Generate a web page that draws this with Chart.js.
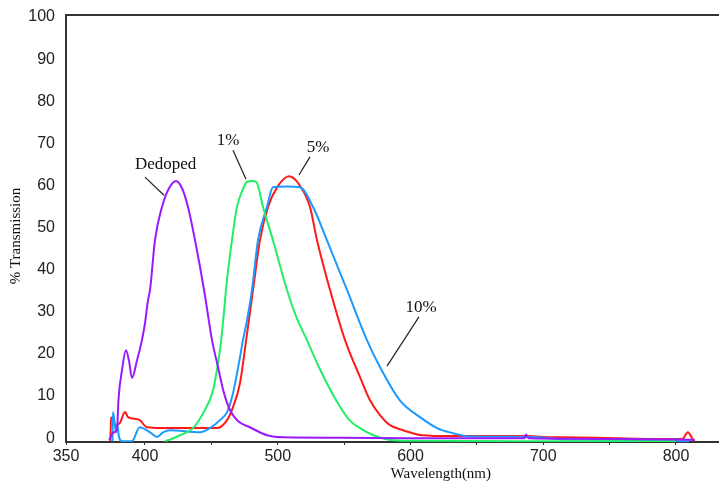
<!DOCTYPE html>
<html>
<head>
<meta charset="utf-8">
<script src="https://cdn.jsdelivr.net/npm/chart.js@4"></script>
<style>
  body { margin: 0; background: #fff; }
  #wrap { width: 719px; height: 486px; }
</style>
</head>
<body>
<div id="wrap"><canvas id="chart"></canvas></div>
<script>
// wavelength (nm) / % transmission
const dedopedNm = [373, 376, 379, 380, 382.7, 385.7, 388, 390.2, 394, 397.7, 400, 402.3, 403.8, 407.5, 412.8, 418, 423.4, 428, 432.4, 437.7, 444.5, 450.5, 455, 459, 464, 470, 479, 492, 504, 550, 600, 686, 687, 689, 720, 760, 800, 814]
const dedopedVal = [0.3, 2, 3, 9.7, 16.9, 21.6, 19, 15, 19.2, 24, 28, 33.5, 35.9, 47.7, 55.6, 60, 61.8, 60, 55.6, 47.7, 35.9, 24, 17.6, 12, 7.4, 4.8, 3.3, 1.4, 0.9, 0.8, 0.7, 0.7, 1.6, 0.7, 0.6, 0.5, 0.4, 0.3]

const onePctNm = [415, 420, 426.4, 436.2, 443.7, 451.2, 455, 457, 459, 461.5, 465.5, 469.3, 474, 477, 480.6, 484, 488.9, 496.4, 507, 514, 522, 531, 544, 554, 562, 572, 584.6, 600, 700, 800]
const onePctVal = [0, 0.5, 1.4, 3.1, 6.6, 12, 18.5, 23, 29, 37.5, 47.7, 55.6, 60, 61.6, 61.8, 61.5, 55.6, 47.7, 35.9, 29.5, 24, 17.6, 9.7, 5, 3.1, 1.4, 0.3, 0.1, 0, 0]

const fivePctNm = [373.9, 374.5, 375.8, 377.4, 381, 385, 387.2, 392, 396, 401.5, 416.6, 440, 454.2, 461.8, 466.3, 471.6, 476, 481.4, 486.6, 492.7, 500, 508.5, 516, 524.3, 529.6, 539.4, 550.7, 562, 569.5, 577, 584.6, 594.4, 608.7, 630, 660, 687.8, 700, 712, 740, 770, 800, 805, 809, 812, 814]
const fivePctVal = [0, 5.5, 5.7, 3.8, 4.3, 6.9, 5.7, 5.3, 5, 3.3, 3.1, 3.1, 3.1, 5, 8.1, 13.8, 23.5, 35.9, 47.7, 55.6, 60.5, 62.9, 61, 55.6, 47.7, 35.9, 24, 15.2, 9.7, 6.2, 3.8, 2.6, 1.4, 1.2, 1.2, 1.2, 1.0, 0.9, 0.8, 0.6, 0.5, 0.6, 2.1, 0.8, 0]

const tenPctNm = [375.5, 375.9, 378.2, 379, 380.4, 382.7, 390.2, 396, 403.8, 409, 413.6, 418.8, 441.4, 449, 456.5, 461.8, 466.3, 471.6, 473.8, 476.9, 480.6, 485.1, 491.9, 496.4, 506, 516.8, 526.6, 537.1, 552.2, 567.2, 577, 592, 607.2, 620, 632, 645, 690, 720, 780, 790, 800, 801, 810]
const tenPctVal = [0, 6.9, 2.1, 4, 1, 0, 0, 3.3, 2.1, 1, 2.1, 2.6, 2.1, 3.1, 5, 6.9, 11.4, 20, 24, 28.7, 35.9, 47.7, 55.6, 60.3, 60.5, 60.3, 55.6, 47.7, 35.9, 24, 17.6, 9.7, 5.7, 3.1, 1.9, 1.1, 1.0, 0.4, 0.3, 0.1, 0.4, 0, 0]

const xTicks = [340.5, 400, 450, 500, 550, 600, 650, 700, 750, 800]
const xTickLabels = ['350', '400', '', '500', '', '600', '', '700', '', '800']
const yTicks = [0, 10, 20, 30, 40, 50, 60, 70, 80, 90, 100]

// curve labels: text, text position, leader line from / to (data units)
const noteText = ['Dedoped', '1%', '5%', '10%']
const noteAt = [[415.5, 65.6], [462.5, 71.3], [530.3, 69.8], [607.9, 31.8]]
const noteFrom = [[400.0, 62.7], [466.3, 69.1], [524.3, 67.5], [606.4, 29.5]]
const noteTo = [[414.3, 58.4], [476.1, 62.2], [516.0, 63.2], [582.3, 17.8]]

function pts (xs, ys) {
  return xs.map((x, i) => ({ x, y: ys[i] }))
}

function line (label, xs, ys, color) {
  return {
    label,
    data: pts(xs, ys),
    borderColor: color,
    borderWidth: 2,
    pointRadius: 0,
    cubicInterpolationMode: 'monotone',
    fill: false
  }
}

const extras = {
  id: 'extras',
  afterDraw (chart) {
    const { ctx, chartArea, scales } = chart
    const x = scales.x
    const y = scales.y
    ctx.save()
    // top frame line
    ctx.strokeStyle = '#333'
    ctx.lineWidth = 2
    ctx.beginPath()
    ctx.moveTo(chartArea.left, chartArea.top)
    ctx.lineTo(chartArea.right, chartArea.top)
    ctx.stroke()

    ctx.fillStyle = '#111'
    ctx.strokeStyle = '#222'
    ctx.lineWidth = 1.2
    ctx.font = '17px "Liberation Serif"'
    ctx.textAlign = 'center'
    ctx.textBaseline = 'middle'
    noteText.forEach((t, i) => {
      ctx.fillText(t, x.getPixelForValue(noteAt[i][0]), y.getPixelForValue(noteAt[i][1]))
      ctx.beginPath()
      ctx.moveTo(x.getPixelForValue(noteFrom[i][0]), y.getPixelForValue(noteFrom[i][1]))
      ctx.lineTo(x.getPixelForValue(noteTo[i][0]), y.getPixelForValue(noteTo[i][1]))
      ctx.stroke()
    })

    // axis titles
    ctx.font = '15px "Liberation Serif"'
    ctx.fillText('Wavelength(nm)', chartArea.left + (chartArea.right - chartArea.left) * 0.574, 474)
    ctx.translate(16, 236)
    ctx.rotate(-Math.PI / 2)
    ctx.fillText('% Transmission', 0, 0)
    ctx.restore()
  }
}

new Chart(document.getElementById('chart'), {
  type: 'line',
  data: {
    datasets: [
      line('Dedoped', dedopedNm, dedopedVal, '#9a1aff'),
      line('1%', onePctNm, onePctVal, '#22ee66'),
      line('10%', tenPctNm, tenPctVal, '#1a99ff'),
      line('5%', fivePctNm, fivePctVal, '#ff1a1a')
    ]
  },
  options: {
    responsive: true,
    maintainAspectRatio: false,
    animation: false,
    layout: { padding: { top: 15, right: 0, left: 0, bottom: 0 } },
    plugins: {
      legend: { display: false },
      tooltip: { enabled: false }
    },
    scales: {
      x: {
        type: 'linear',
        min: 340.5,
        max: 832.4,
        afterBuildTicks: s => { s.ticks = xTicks.map(v => ({ value: v })) },
        afterFit: s => { s.height = 44 },
        grid: { display: true, drawOnChartArea: false, tickLength: 3, color: '#333' },
        border: { color: '#333', width: 2 },
        ticks: {
          autoSkip: false,
          maxRotation: 0,
          padding: 2,
          color: '#222',
          font: { family: 'Liberation Sans', size: 16 },
          callback: (v, i) => xTickLabels[i]
        }
      },
      y: {
        min: -0.2,
        max: 101.2,
        afterBuildTicks: s => { s.ticks = yTicks.map(v => ({ value: v })) },
        afterFit: s => { s.width = 66 },
        grid: { display: false },
        border: { color: '#333', width: 2 },
        ticks: {
          padding: 3,
          labelOffset: -3,
          color: '#222',
          font: { family: 'Liberation Sans', size: 16 }
        }
      }
    }
  },
  plugins: [extras]
})
</script>
</body>
</html>
